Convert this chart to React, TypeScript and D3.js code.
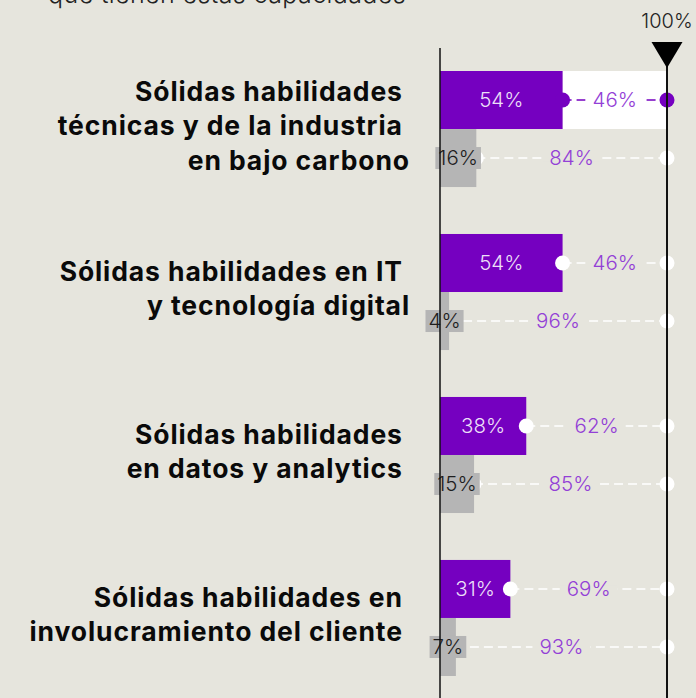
import React, { useEffect, useRef } from 'react';
import * as d3 from 'd3';

// category labels, one entry per line (trailing spaces kept as in the source layout)
const categories = [
  ['Sólidas habilidades ', 'técnicas y de la industria ', 'en bajo carbono'],
  ['Sólidas habilidades en IT ', 'y tecnología digital'],
  ['Sólidas habilidades ', 'en datos y analytics '],
  ['Sólidas habilidades en ', 'involucramiento del cliente '],
];
// share with strong capabilities (purple) and the other group (gray)
const strongShare = [54, 54, 38, 31];
const weakShare = [16, 4, 15, 7];
const highlighted = 0;
const subtitle = 'que tienen estas capacidades';
const maxLabel = '100%';

const W = 696;
const H = 698;
const BG = '#e6e5dd';
const PURPLE = '#7500c0';
const LIGHT_PURPLE = '#9340d6';
const GRAY = '#b5b5b5';
const FONT = 'Inter, "Noto Sans", sans-serif';

const draw = (el: SVGSVGElement) => {
  const svg = d3.select(el);
  svg.selectAll('*').remove();

  svg.append('rect').attr('width', W).attr('height', H).attr('fill', BG);

  const x = d3.scaleLinear().domain([0, 100]).range([440, 667]);
  const y = d3.scaleBand<number>().domain(d3.range(categories.length)).range([71, 676]).paddingInner(0.288);
  const row = d3.scaleBand<string>().domain(['strong', 'weak']).range([0, y.bandwidth()]);
  const bh = row.bandwidth();

  // subtitle (cut at the top of the picture)
  svg.append('text')
    .attr('x', 406).attr('y', 3)
    .attr('text-anchor', 'end')
    .attr('font-family', FONT).attr('font-weight', 300).attr('font-size', 25)
    .attr('letter-spacing', 0.4)
    .attr('fill', '#222')
    .text(subtitle);

  const groups = svg.selectAll('g.cat')
    .data(categories)
    .join('g')
    .attr('class', 'cat')
    .attr('transform', (_, i) => `translate(0,${y(i)})`);

  // bars
  groups.each(function (_, i) {
    const g = d3.select(this);
    if (i === highlighted) {
      g.append('rect')
        .attr('x', x(strongShare[i])).attr('y', row('strong'))
        .attr('width', x(100) - x(strongShare[i])).attr('height', bh)
        .attr('fill', '#fff');
    }
    g.append('rect')
      .attr('x', x(0)).attr('y', row('strong'))
      .attr('width', x(strongShare[i]) - x(0)).attr('height', bh)
      .attr('fill', PURPLE);
    g.append('rect')
      .attr('x', x(0)).attr('y', row('weak'))
      .attr('width', x(weakShare[i]) - x(0)).attr('height', bh)
      .attr('fill', GRAY);
  });

  // axis at 0 and the 100% marker
  svg.append('line')
    .attr('x1', x(0)).attr('x2', x(0)).attr('y1', 48).attr('y2', H)
    .attr('stroke', '#111').attr('stroke-width', 1.5);
  svg.append('line')
    .attr('x1', x(100)).attr('x2', x(100)).attr('y1', 60).attr('y2', H)
    .attr('stroke', '#111').attr('stroke-width', 2);
  svg.append('path')
    .attr('d', `M${x(100) - 15.5},42L${x(100) + 15.5},42L${x(100)},68Z`)
    .attr('fill', '#000');
  svg.append('text')
    .attr('x', x(100)).attr('y', 28)
    .attr('text-anchor', 'middle')
    .attr('font-family', FONT).attr('font-weight', 300).attr('font-size', 20)
    .attr('fill', '#222')
    .text(maxLabel);

  groups.each(function (lines, i) {
    const g = d3.select(this);
    const rows = [
      { key: 'strong', v: strongShare[i] },
      { key: 'weak', v: weakShare[i] },
    ];
    rows.forEach((r) => {
      const cy = (row(r.key) as number) + bh / 2;
      const hi = i === highlighted && r.key === 'strong';
      const lineColor = hi ? PURPLE : '#fff';
      // dashed remainder line
      g.append('line')
        .attr('x1', x(r.v)).attr('x2', x(100)).attr('y1', cy).attr('y2', cy)
        .attr('stroke', lineColor).attr('stroke-width', 1.6)
        .attr('stroke-dasharray', '9,5');
      // dots
      [r.v, 100].forEach((d) => {
        g.append('circle')
          .attr('cx', x(d)).attr('cy', cy).attr('r', 7.5)
          .attr('fill', lineColor);
      });
      // remainder label
      const rest = 100 - r.v;
      const mid = (x(r.v) + x(100)) / 2;
      const restBg = g.append('rect').attr('fill', hi ? '#fff' : BG);
      const restText = g.append('text')
        .attr('x', mid).attr('y', cy).attr('dy', '0.36em')
        .attr('text-anchor', 'middle')
        .attr('font-family', FONT).attr('font-weight', 300).attr('font-size', 20.5)
        .attr('fill', LIGHT_PURPLE)
        .text(`${rest}%`);
      const rb = (restText.node() as SVGTextElement).getBBox();
      restBg.attr('x', rb.x - 7).attr('y', cy - 3).attr('width', rb.width + 14).attr('height', 6);

      // value label
      const cx = (x(0) + x(r.v)) / 2;
      if (r.key === 'strong') {
        g.append('text')
          .attr('x', cx).attr('y', cy).attr('dy', '0.36em')
          .attr('text-anchor', 'middle')
          .attr('font-family', FONT).attr('font-weight', 300).attr('font-size', 20.5)
          .attr('fill', '#ecdff8')
          .text(`${r.v}%`);
      } else {
        const box = g.append('rect').attr('fill', GRAY);
        const t = g.append('text')
          .attr('x', cx).attr('y', cy).attr('dy', '0.36em')
          .attr('text-anchor', 'middle')
          .attr('font-family', FONT).attr('font-weight', 300).attr('font-size', 20.5)
          .attr('fill', '#1e1e1e')
          .text(`${r.v}%`);
        const b = (t.node() as SVGTextElement).getBBox();
        box.attr('x', b.x - 3).attr('y', cy - 11).attr('width', b.width + 6).attr('height', 22);
      }
    });

    // category label
    const center = y.bandwidth() / 2;
    const lh = 34.5;
    const txt = g.append('text')
      .attr('text-anchor', 'end')
      .attr('xml:space', 'preserve')
      .attr('font-family', FONT).attr('font-weight', 700).attr('font-size', 26.5)
      .attr('letter-spacing', 0.9)
      .attr('fill', '#0a0a0a');
    lines.forEach((ln, k) => {
      txt.append('tspan')
        .attr('x', 410)
        .attr('y', center + 6 + (k - (lines.length - 1) / 2) * lh)
        .text(ln);
    });
  });
};

export default function App() {
  const ref = useRef<SVGSVGElement>(null);
  useEffect(() => {
    if (ref.current) draw(ref.current);
  }, []);
  return (
    <svg
      ref={ref}
      width={W}
      height={H}
      style={{ position: 'absolute', left: 0, top: 0, whiteSpace: 'pre' }}
    />
  );
}
